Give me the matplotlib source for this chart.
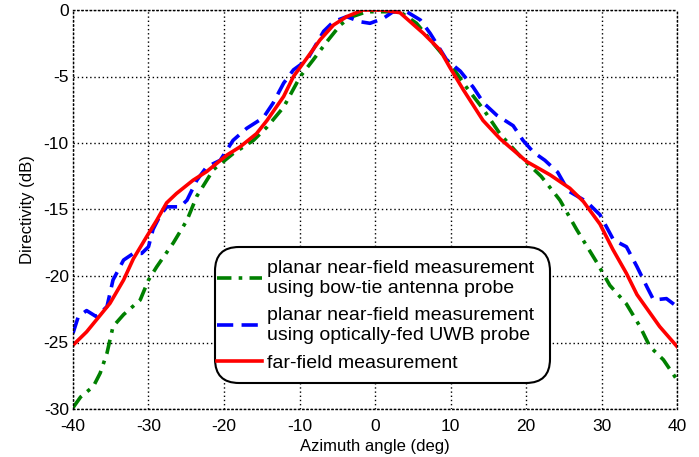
import matplotlib
matplotlib.use("Agg")
import matplotlib.pyplot as plt
from matplotlib.patches import FancyBboxPatch
from matplotlib.transforms import IdentityTransform

plt.rcParams['font.family'] = ['Liberation Sans', 'DejaVu Sans']

# far-field measurement (red)
ff_x = [-40, -38.2, -35.1, -33.3, -32, -30.2, -28.9, -27.6, -26.3, -24.1, -22.3, -19.6, -17.9,
        -15.7, -14.3, -12.1, -10.8, -9.0, -7.3, -5.5, -3.75, -1.6, 0, 1, 3.3, 6.4, 8.6, 9.9,
        11.7, 14.3, 16.6, 20.1, 23.2, 25.8, 27.6, 29.8, 31.5, 33.3, 34.7, 37.7, 40]
ff_y = [-25.2, -24.2, -22.05, -20.3, -18.7, -17.0, -15.8, -14.5, -13.8, -12.8, -12.15, -10.9, -10.3,
        -9.3, -8.3, -6.5, -5.0, -3.6, -2.26, -1.13, -0.5, 0, 0, 0, -0.2, -1.75, -3.0, -4.3,
        -6.0, -8.3, -9.7, -11.4, -12.4, -13.4, -14.4, -16.1, -18.0, -19.8, -21.4, -23.8, -25.3]

# optically-fed UWB probe (blue)
uwb_x = [-40, -39.3, -38.2, -36.9, -35.5, -34.7, -33.3, -32, -30.9, -30, -29.4, -28.5, -27.6,
         -25.8, -24.9, -23.6, -22.3, -20.5, -18.8, -17.0, -14.8, -13.5, -12.1, -10.8, -9.0,
         -6.8, -5.5, -3.75, -2.0, -0.66, 1.1, 2.4, 4.2, 6.0, 7.3, 9.5, 11.3, 13.0, 14.4, 16.1,
         18.3, 19.6, 21.0, 22.5, 24.2, 25.6, 28.0, 29.8, 31.6, 33.3, 34.7, 36.0, 36.9, 38.6, 40]
uwb_y = [-24.3, -23.06, -22.6, -23.06, -22.3, -20.3, -18.8, -18.3, -18.3, -17.8, -16.5, -15.5, -14.8,
         -14.8, -14.3, -12.8, -11.8, -11.3, -9.8, -8.9, -8.1, -7.0, -5.5, -4.5, -3.76,
         -1.6, -0.88, -0.5, -0.88, -1.0, -0.63, -0.13, -0.13, -0.75, -1.75, -3.76, -4.6, -5.8, -7.0, -7.9,
         -8.7, -9.8, -10.7, -11.3, -12.2, -13.6, -14.4, -15.4, -17.3, -17.8, -19.3, -20.8, -21.8, -21.7, -22.3]

# bow-tie antenna probe (green)
bt_x = [-40, -39, -37.3, -36.4, -35.5, -34.7, -33.3, -31.1, -30, -28.9, -26.7, -24.9, -23.6,
        -21.4, -18.8, -16.1, -14.3, -12.1, -9.9, -8.2, -6.4, -4.6, -3.3, -1.1, 3.3, 5.5, 7.7,
        9.9, 12.1, 14.4, 16.6, 19.4, 22.0, 24.5, 26.7, 29.4, 31.1, 33.3, 35.1, 36.4, 38.2, 40]
bt_y = [-29.9, -29.1, -28.3, -27.3, -25.8, -23.8, -22.9, -21.8, -20.3, -19.3, -17.5, -15.8, -14.0,
        -12.0, -10.8, -9.8, -8.8, -7.3, -5.0, -3.76, -2.4, -1.13, -0.55, -0.13, -0.13, -1.0, -2.5,
        -4.0, -5.8, -7.5, -9.35, -11.1, -12.5, -14.3, -16.5, -19.0, -20.7, -22.1, -23.8, -25.3, -26.3, -27.8]

labels = ["planar near-field measurement\nusing bow-tie antenna probe",
          "planar near-field measurement\nusing optically-fed UWB probe",
          "far-field measurement"]
x_ticks = [-40, -30, -20, -10, 0, 10, 20, 30, 40]
y_ticks = [0, -5, -10, -15, -20, -25, -30]

W, H = 699, 457
fig = plt.figure(figsize=(W/100, H/100), dpi=100)
ax = fig.add_axes([73/W, 1-409/H, (677-73)/W, (409-10)/H])

ax.plot(bt_x, bt_y, color='#008000', lw=2.6, linestyle=(0, (4, 2, 1, 2)), label=labels[0])
ax.plot(uwb_x, uwb_y, color='#0000ff', lw=2.6, linestyle=(0, (4.5, 2.3)), label=labels[1])
ax.plot(ff_x, ff_y, color='#ff0000', lw=2.6, linestyle='-', label=labels[2])

ax.set_xlim(-40, 40)
ax.set_ylim(-30, 0)
ax.set_xticks(x_ticks)
ax.set_yticks(y_ticks)
ax.set_xticklabels([str(v) for v in x_ticks])
ax.set_yticklabels([str(v) for v in y_ticks])
ax.tick_params(axis='both', length=0, labelsize=12.5, colors='black')
ax.tick_params(axis='x', pad=7)
ax.tick_params(axis='y', pad=3)
ax.grid(True, color='black', linestyle=(0, (1, 2)), linewidth=1.0)
for s in ax.spines.values():
    s.set_linestyle((0, (1, 2)))
    s.set_linewidth(1.0)
    s.set_color('black')

ax.set_xlabel("Azimuth angle (deg)", fontsize=12, labelpad=4)
ax.set_ylabel("Directivity (dB)", fontsize=12, labelpad=6)

# legend box (rounded frame drawn in pixel coordinates)
bx0, bx1, by_top, by_bot = 215, 550, 247, 383
frame = FancyBboxPatch((bx0, H - by_bot), bx1 - bx0, by_bot - by_top,
                       boxstyle="round,pad=0,rounding_size=24",
                       transform=IdentityTransform(), facecolor='white',
                       edgecolor='black', linewidth=1.5, zorder=4.5)
ax.add_artist(frame)

leg = ax.legend(loc='upper left', bbox_to_anchor=((217-73)/604, (409-260)/399), fontsize=14,
                handlelength=2.3, handletextpad=0.25, borderpad=0, labelspacing=0.5,
                borderaxespad=0, frameon=False)
for t in leg.get_texts():
    t.set_linespacing(1.26)
leg.set_zorder(5)

fig.savefig("out.png", dpi=100)
